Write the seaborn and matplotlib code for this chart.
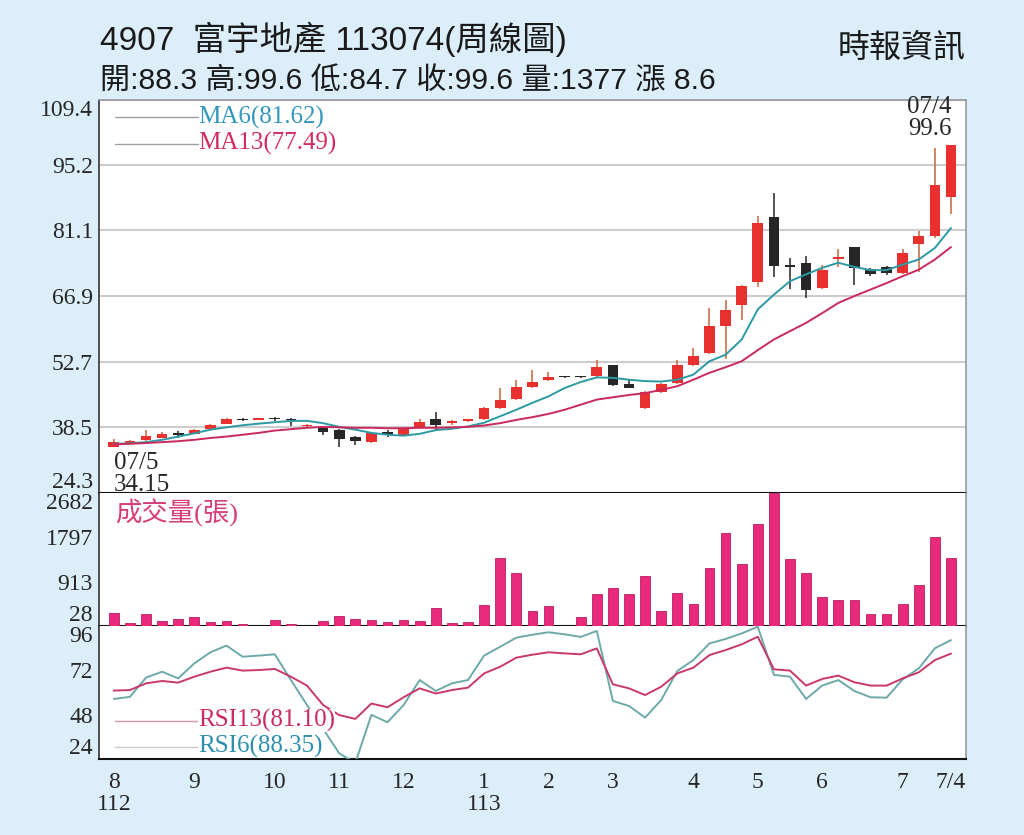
import numpy as np
import seaborn as sns
import matplotlib.pyplot as plt
from matplotlib.ticker import FixedLocator

sns.set_style("white")
plt.rcParams['font.family'] = ['Liberation Serif', 'Noto Sans CJK TC']

# weekly candles, 2023/07 - 2024/07
opens = [34.3, 35.2, 35.8, 36.3, 37.1, 37.1, 38.1, 39.3, 40.3, 40.1, 40.3, 40.4, 38.7,
         38.4, 38.0, 36.5, 35.3, 37.1, 36.9, 38.4, 40.3, 39.5, 39.8, 40.2, 42.6, 44.7,
         47.2, 48.8, 49.4, 49.4, 49.6, 51.9, 47.9, 42.6, 46.2, 48.0, 51.9, 54.6, 60.5,
         64.9, 69.9, 84.0, 73.6, 74.1, 68.6, 74.9, 77.4, 72.8, 73.2, 71.9, 78.1, 79.9, 88.3]
highs = [36.0, 35.8, 38.0, 37.5, 37.6, 38.2, 39.2, 40.5, 40.5, 40.3, 40.8, 40.5, 39.2,
         38.5, 38.1, 36.6, 37.5, 37.9, 38.6, 40.2, 41.8, 40.0, 40.2, 42.8, 46.9, 48.8,
         50.9, 50.5, 49.5, 49.6, 53.1, 52.0, 49.0, 46.4, 48.0, 53.1, 55.7, 64.4, 66.0,
         69.3, 84.3, 89.1, 75.2, 75.5, 73.7, 77.0, 77.5, 73.0, 73.4, 77.0, 81.0, 99.0, 99.6]
lows = [34.15, 35.0, 35.6, 36.1, 36.1, 37.0, 38.0, 39.2, 39.9, 40.0, 39.9, 38.7, 38.4,
        36.8, 34.3, 34.6, 35.2, 36.4, 36.8, 38.3, 38.0, 39.0, 39.6, 40.1, 42.5, 44.5,
        47.0, 48.6, 49.2, 49.2, 49.4, 47.4, 46.9, 42.5, 46.0, 47.8, 51.7, 54.4, 53.2,
        61.8, 68.9, 71.1, 68.5, 66.4, 68.4, 73.2, 69.3, 71.2, 71.4, 71.7, 72.1, 79.5, 84.7]
closes = [35.3, 35.4, 36.7, 37.1, 36.9, 38.0, 39.0, 40.3, 40.0, 40.2, 40.2, 40.0, 38.9,
          37.4, 35.9, 35.6, 37.3, 37.0, 38.4, 39.7, 39.1, 39.8, 40.0, 42.6, 44.4, 47.3,
          48.4, 49.4, 49.3, 49.3, 51.5, 47.6, 47.1, 46.2, 47.8, 51.9, 54.0, 60.5, 63.9,
          69.0, 82.8, 73.5, 73.2, 68.1, 72.5, 75.0, 72.9, 71.6, 71.9, 76.1, 79.9, 91.0, 99.6]

ma6 = [34.9, 35.05, 35.3, 35.8, 36.5, 37.2, 38.0, 38.5, 38.95, 39.3, 39.6, 39.9, 39.9,
       39.4, 38.6, 38.0, 37.3, 36.9, 36.7, 37.1, 37.9, 38.2, 38.7, 39.5, 40.9, 42.3,
       43.8, 45.2, 47.0, 48.3, 49.3, 49.2, 48.8, 48.5, 48.4, 48.8, 49.9, 52.8, 54.2,
       57.5, 64.0, 67.2, 70.1, 71.6, 73.0, 74.1, 73.2, 72.5, 72.5, 73.7, 74.8, 77.3, 81.62]
ma13 = [34.8, 34.95, 35.1, 35.3, 35.5, 35.8, 36.2, 36.5, 36.9, 37.3, 37.8, 38.1, 38.4,
        38.6, 38.5, 38.4, 38.4, 38.3, 38.3, 38.4, 38.4, 38.5, 38.6, 38.9, 39.4, 40.1,
        40.7, 41.4, 42.3, 43.4, 44.5, 45.0, 45.5, 45.9, 46.6, 47.4, 48.8, 50.3, 51.5,
        52.8, 55.2, 57.5, 59.3, 61.1, 63.2, 65.4, 66.9, 68.3, 69.7, 71.2, 72.6, 74.8, 77.49]

volume = [281, 94, 267, 134, 168, 201, 114, 134, 61, 20, 154, 61, 20,
          134, 221, 174, 141, 101, 148, 121, 381, 81, 101, 447, 1379, 1092,
          327, 433, 20, 214, 660, 793, 673, 1026, 327, 693, 467, 1192, 1878,
          1272, 2063, 2682, 1372, 1086, 613, 540, 547, 267, 267, 473, 846, 1804, 1377]

rsi6 = [56.6, 57.7, 68.1, 71.3, 67.7, 75.8, 81.8, 85.4, 79.4, 80.0, 80.7, 66.8, 53.3,
        40.4, 27.2, 22.0, 48.0, 44.0, 53.3, 66.8, 60.9, 65.0, 66.8, 80.0, 84.8, 89.7,
        91.3, 92.6, 91.5, 90.1, 93.3, 55.5, 52.8, 46.5, 56.0, 71.7, 77.6, 86.6, 89.0,
        92.0, 95.6, 69.6, 68.6, 56.6, 63.8, 66.8, 60.9, 57.5, 57.3, 67.2, 73.1, 84.0, 88.35]
rsi13 = [61.1, 61.4, 65.0, 66.3, 65.4, 68.6, 71.3, 73.5, 71.9, 72.2, 72.8, 68.6, 63.8,
         53.3, 47.9, 45.8, 54.1, 52.1, 57.5, 62.3, 59.5, 61.4, 62.7, 70.4, 74.0, 78.9,
         80.5, 81.8, 81.2, 80.7, 83.9, 64.5, 62.3, 58.7, 63.2, 70.4, 73.5, 80.3, 83.0,
         86.1, 90.2, 72.6, 71.9, 63.8, 67.4, 69.2, 65.6, 63.8, 63.8, 67.7, 71.0, 77.6, 81.1]

price_ticks = [24.3, 38.5, 52.7, 66.9, 81.1, 95.2, 109.4]
vol_ticks = [28, 913, 1797, 2682]
rsi_ticks = [24, 48, 72, 96]
month_pos = [0, 5, 10, 14, 18, 23, 27, 31, 36, 40, 44, 49, 52]
month_labels = ['8\n112', '9', '10', '11', '12', '1\n113', '2', '3', '4', '5', '6', '7', '7/4']

BG = '#dbeefa'
RED = '#e8302e'
RED_WICK = '#c4643e'
BLACK = '#262626'
MA6_C = '#2b9aa3'
MA13_C = '#c9295d'
VOL_C = '#e9297c'
RSI6_C = '#6ea9aa'
RSI13_C = '#c8386a'

idx = np.arange(len(closes))
o = np.array(opens)
c = np.array(closes)
up = c >= o

fig = plt.figure(figsize=(10.24, 8.35), dpi=100, facecolor=BG)
L, W = 0.0962, 0.8476
ax = fig.add_axes([L, 0.4096, W, 0.4712])
axv = fig.add_axes([L, 0.2503, W, 0.1593], sharex=ax)
axr = fig.add_axes([L, 0.0907, W, 0.1596], sharex=ax)
for a in (ax, axv, axr):
    a.set_facecolor('white')

# price panel
ax.vlines(idx, lows, highs, colors=np.where(up, RED_WICK, BLACK), lw=1.1, zorder=3)
ax.bar(idx, np.maximum(np.abs(c - o), 0.4), bottom=np.minimum(o, c), width=0.66,
       color=np.where(up, RED, BLACK), linewidth=0, zorder=4)
sns.lineplot(x=idx, y=ma6, ax=ax, color=MA6_C, lw=1.4, zorder=5, legend=False)
sns.lineplot(x=idx, y=ma13, ax=ax, color=MA13_C, lw=1.4, zorder=5, legend=False)
ax.set_ylim(24.3, 109.4)
ax.set_yticks(price_ticks, [f'{v:.1f}' for v in price_ticks])
ax.yaxis.grid(True, color='#cdcdcd', lw=1.5)
ax.set_axisbelow(True)

ax.plot([0.019, 0.1146], [0.9548, 0.9548], transform=ax.transAxes, color='#a0a0a0', lw=1)
ax.plot([0.019, 0.1146], [0.8877, 0.8877], transform=ax.transAxes, color='#a0a0a0', lw=1)
ax.text(0.1146, 0.9548, 'MA6(81.62)', transform=ax.transAxes, color='#3397bd',
        fontsize=18, va='center')
ax.text(0.1146, 0.8877, 'MA13(77.49)', transform=ax.transAxes, color='#d22c5e',
        fontsize=18, va='center')
ax.text(0.0, 28.4, '07/5\n34.15', fontsize=18, ha='left', va='center',
        linespacing=1.0, zorder=10, clip_on=False)
ax.text(52.05, 105.4, '07/4\n99.6', fontsize=18, ha='right', va='center',
        linespacing=1.0, zorder=10)

# volume panel
sns.barplot(x=idx, y=volume, ax=axv, native_scale=True, color=VOL_C, saturation=1,
            width=0.6, edgecolor='#b81f5e', linewidth=0.6, zorder=3)
axv.set_ylim(28, 2682)
axv.set_yticks(vol_ticks, [str(v) for v in vol_ticks])
axv.text(0.019, 0.85, '成交量(張)', transform=axv.transAxes, color='#d63c78',
         fontsize=19, va='center')

# RSI panel
sns.lineplot(x=idx, y=rsi6, ax=axr, color=RSI6_C, lw=1.4, zorder=3, legend=False)
sns.lineplot(x=idx, y=rsi13, ax=axr, color=RSI13_C, lw=1.4, zorder=3, legend=False)
axr.set_ylim(24, 96)
axr.set_yticks(rsi_ticks, [str(v) for v in rsi_ticks])
axr.plot([0.019, 0.1146], [0.2896, 0.2896], transform=axr.transAxes, color='#d796ab', lw=1, zorder=4)
axr.plot([0.019, 0.1146], [0.0945, 0.0945], transform=axr.transAxes, color='#c5cccc', lw=1, zorder=4)
axr.text(0.1146, 0.2896, 'RSI13(81.10)', transform=axr.transAxes, color='#cc2a5e',
         fontsize=18, va='center', zorder=6,
         bbox=dict(facecolor='white', edgecolor='none', pad=0))
axr.text(0.1146, 0.0945, 'RSI6(88.35)', transform=axr.transAxes, color='#2d8fb0',
         fontsize=18, va='center', zorder=6,
         bbox=dict(facecolor='white', edgecolor='none', pad=0))

axr.set_xlim(-0.95, 52.96)
axr.xaxis.set_major_locator(FixedLocator(month_pos))
axr.set_xticklabels(month_labels)
axr.xaxis.set_minor_locator(FixedLocator(idx))
axr.tick_params(axis='x', which='major', length=7, width=1, color='#333333',
                labelsize=17, pad=2)
axr.tick_params(axis='x', which='minor', length=3.5, width=1, color='#333333')
for lbl in axr.get_xticklabels():
    lbl.set_linespacing(1.05)

for a in (ax, axv):
    a.tick_params(axis='x', which='both', bottom=False, labelbottom=False)
for a in (ax, axv, axr):
    a.set_xlabel('')
    a.set_ylabel('')
    a.tick_params(axis='y', length=3, width=1, color='#333333', labelsize=17, pad=1)
    labels = a.get_yticklabels()
    labels[0].set_verticalalignment('bottom')
    labels[-1].set_verticalalignment('top')
    for s in a.spines.values():
        s.set_color('#999999')
        s.set_linewidth(1.2)
    a.spines['left'].set_color('#333333')
    a.spines['bottom'].set_color('#111111')
    a.spines['bottom'].set_linewidth(1.5)
axv.spines['top'].set_visible(False)
axr.spines['top'].set_visible(False)

# header
hdr = ['Liberation Sans', 'Noto Sans CJK TC']
fig.text(0.0977, 1 - 50 / 835, '4907  富宇地產 113074(周線圖)', family=hdr,
         fontsize=24, color='#1a1a1a', va='baseline')
fig.text(0.0977, 1 - 90 / 835, '開:88.3 高:99.6 低:84.7 收:99.6 量:1377 漲 8.6', family=hdr,
         fontsize=21.7, color='#1a1a1a', va='baseline')
fig.text(966 / 1024, 1 - 57 / 835, '時報資訊', family=hdr, fontsize=23,
         color='#1a1a1a', ha='right', va='baseline')

fig.savefig('out.png', dpi=100, facecolor=BG)
